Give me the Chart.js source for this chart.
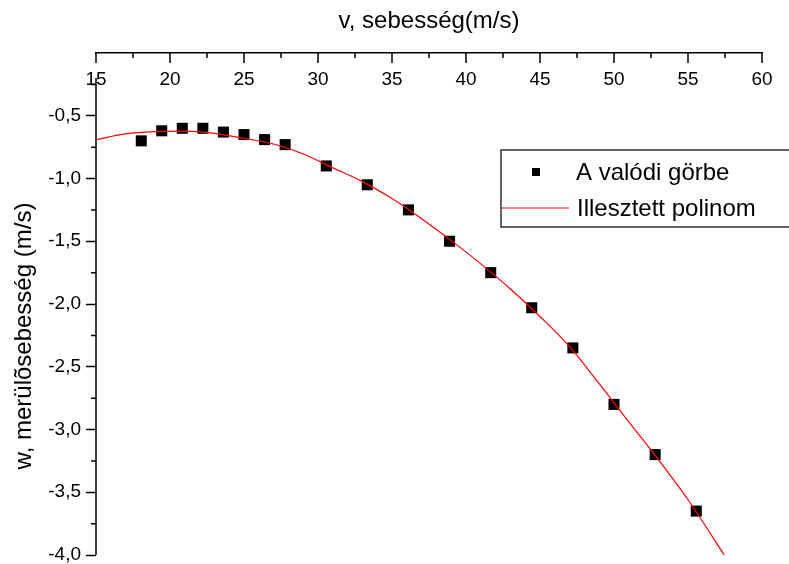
<!DOCTYPE html>
<html>
<head>
<meta charset="utf-8">
<script src="https://cdn.jsdelivr.net/npm/chart.js@4.4.0/dist/chart.umd.min.js"></script>
<style>
  body { margin: 0; background: #fff; }
  #wrap { width: 789px; height: 564px; }
</style>
</head>
<body>
<div id="wrap"><canvas id="chart" width="789" height="564"></canvas></div>
<script>
// measured points
var speeds = [18.06, 19.44, 20.83, 22.22, 23.61, 25.0, 26.39, 27.78, 30.56, 33.33, 36.11, 38.89, 41.67, 44.44, 47.22, 50.0, 52.78, 55.56];
var sinkRates = [-0.70, -0.62, -0.60, -0.60, -0.63, -0.65, -0.69, -0.73, -0.90, -1.05, -1.25, -1.50, -1.75, -2.03, -2.35, -2.80, -3.20, -3.65];

// fitted polynomial
var fitSpeeds = [15, 17, 19, 21, 23, 25, 27, 29, 31, 33, 35, 37, 39, 41, 43, 45, 47, 49, 51, 53, 55, 57.45];
var fitSinkRates = [-0.69, -0.645, -0.627, -0.622, -0.64, -0.68, -0.725, -0.805, -0.915, -1.025, -1.16, -1.32, -1.495, -1.68, -1.88, -2.10, -2.34, -2.635, -2.94, -3.24, -3.56, -4.0];

var xTicks = [15, 20, 25, 30, 35, 40, 45, 50, 55, 60];
var xMinorTicks = [17.5, 22.5, 27.5, 32.5, 37.5, 42.5, 47.5, 52.5, 57.5];
var yTicks = [-4.0, -3.5, -3.0, -2.5, -2.0, -1.5, -1.0, -0.5];
var yMinorTicks = [-3.75, -3.25, -2.75, -2.25, -1.75, -1.25, -0.75, -0.25];

var seriesLabels = ["A valódi görbe", "Illesztett polinom"];
var xTitle = "v, sebesség(m/s)";
var yTitle = "w, merülõsebesség (m/s)";

var fontFamily = "'Liberation Sans', Arial, sans-serif";

var toPoints = function (xs, ys) {
    return xs.map(function (x, i) { return { x: x, y: ys[i] }; });
};

var comma = function (v) {
    return Number(v).toFixed(1).replace('.', ',');
};

// top axis ticks go into the plot with labels under them, left axis is short at the top,
// and the legend sits in a box inside the plot
var axisDecor = {
    id: 'axisDecor',
    afterDraw: function (chart) {
        var ctx = chart.ctx, area = chart.chartArea;
        var xs = chart.scales.x, ys = chart.scales.y;
        ctx.save();
        ctx.strokeStyle = '#000';
        ctx.lineWidth = 1.5;

        ctx.beginPath();
        xTicks.forEach(function (v) {
            var px = xs.getPixelForValue(v);
            ctx.moveTo(px, area.top);
            ctx.lineTo(px, area.top + 10);
        });
        xMinorTicks.forEach(function (v) {
            var px = xs.getPixelForValue(v);
            ctx.moveTo(px, area.top);
            ctx.lineTo(px, area.top + 5);
        });
        // left axis line
        ctx.moveTo(area.left, ys.getPixelForValue(-0.2));
        ctx.lineTo(area.left, area.bottom);
        yMinorTicks.forEach(function (v) {
            var py = ys.getPixelForValue(v);
            ctx.moveTo(area.left, py);
            ctx.lineTo(area.left - 5, py);
        });
        ctx.stroke();

        ctx.fillStyle = '#000';
        ctx.font = '19px ' + fontFamily;
        ctx.textAlign = 'center';
        ctx.textBaseline = 'middle';
        xTicks.forEach(function (v) {
            ctx.fillText(String(v), xs.getPixelForValue(v), area.top + 27);
        });

        // y title, sits lower than the axis centre
        ctx.save();
        ctx.translate(24, 336);
        ctx.rotate(-Math.PI / 2);
        ctx.font = '24px ' + fontFamily;
        ctx.fillText(yTitle, 0, 0);
        ctx.restore();

        // legend
        var bx = 501, by = 150, bw = 320, bh = 77;
        ctx.fillStyle = '#fff';
        ctx.fillRect(bx, by, bw, bh);
        ctx.strokeStyle = '#333';
        ctx.lineWidth = 1.5;
        ctx.strokeRect(bx, by, bw, bh);

        var pts = chart.data.datasets[0];
        ctx.fillStyle = pts.backgroundColor;
        ctx.fillRect(532, 168, 8, 8);
        var fit = chart.data.datasets[1];
        ctx.strokeStyle = fit.borderColor;
        ctx.lineWidth = 1;
        ctx.beginPath();
        ctx.moveTo(502, 208);
        ctx.lineTo(569, 208);
        ctx.stroke();

        ctx.fillStyle = '#000';
        ctx.font = '24px ' + fontFamily;
        ctx.textAlign = 'left';
        ctx.fillText(pts.label, 576, 173);
        ctx.fillText(fit.label, 577, 209);
        ctx.restore();
    }
};

var chart = new Chart(document.getElementById('chart'), {
    type: 'scatter',
    data: {
        datasets: [
            {
                label: seriesLabels[0],
                data: toPoints(speeds, sinkRates),
                pointStyle: 'rect',
                pointRadius: 7.8,
                pointHoverRadius: 7.8,
                backgroundColor: '#000',
                borderColor: '#000',
                borderWidth: 0,
                order: 2
            },
            {
                label: seriesLabels[1],
                data: toPoints(fitSpeeds, fitSinkRates),
                showLine: true,
                pointRadius: 0,
                borderColor: '#ff0000',
                backgroundColor: '#ff0000',
                borderWidth: 1.2,
                cubicInterpolationMode: 'monotone',
                order: 1
            }
        ]
    },
    options: {
        responsive: false,
        animation: false,
        layout: { padding: { left: 0, top: 0, right: 27, bottom: 9 } },
        plugins: {
            legend: { display: false },
            tooltip: { enabled: false }
        },
        scales: {
            x: {
                type: 'linear',
                position: 'top',
                min: 15,
                max: 60,
                grid: { display: false },
                border: { display: true, color: '#000', width: 1.5 },
                ticks: { display: false },
                title: {
                    display: true,
                    text: xTitle,
                    color: '#000',
                    font: { family: fontFamily, size: 24 },
                    padding: { top: 7, bottom: 0 }
                },
                afterFit: function (scale) { scale.height = 53; }
            },
            y: {
                type: 'linear',
                min: -4,
                max: 0,
                afterBuildTicks: function (scale) {
                    scale.ticks = yTicks.map(function (v) { return { value: v }; });
                },
                grid: {
                    drawOnChartArea: false,
                    drawTicks: true,
                    tickLength: 10,
                    tickWidth: 1.5,
                    tickColor: '#000'
                },
                border: { display: false },
                ticks: {
                    color: '#000',
                    padding: 5,
                    font: { family: fontFamily, size: 19 },
                    callback: function (v) { return comma(v); }
                },
                title: { display: false },
                afterFit: function (scale) {
                    scale.width = 96;
                    scale.paddingTop = 0;
                    scale.paddingBottom = 0;
                }
            }
        }
    },
    plugins: [axisDecor]
});
</script>
</body>
</html>
